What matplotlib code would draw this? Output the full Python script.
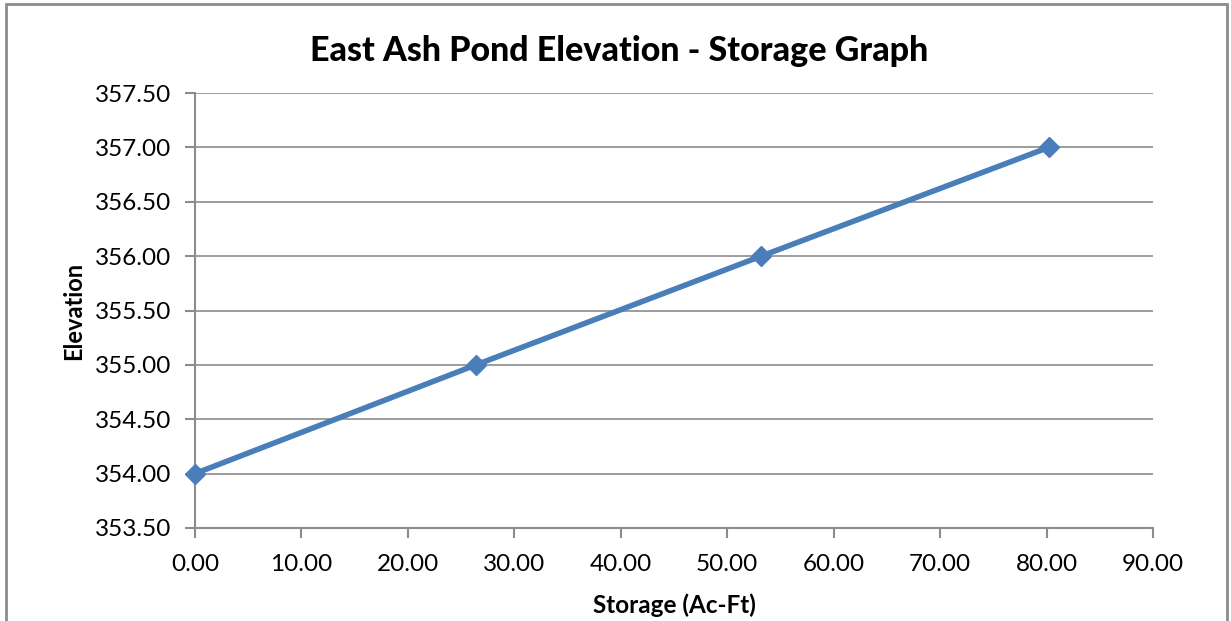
import matplotlib
matplotlib.use("Agg")
import matplotlib.pyplot as plt
from matplotlib.patches import Rectangle
from matplotlib.ticker import FormatStrFormatter

# Elevation - storage data
storage = [0.0, 26.4, 53.2, 80.2]
elevation = [354.0, 355.0, 356.0, 357.0]

plt.rcParams['font.family'] = ['Lato', 'DejaVu Sans']

fig = plt.figure(figsize=(12.31, 6.21), dpi=100)
ax = fig.add_axes([0.1584, 0.1498, 0.7782, 0.7004])

# outer chart border (Excel style)
fig.patches.append(Rectangle((6 / 1231, -0.05), (1227 - 6) / 1231, 1.05 - 4 / 621,
                             transform=fig.transFigure, fill=False,
                             edgecolor='#8c8c8c', linewidth=2))

ax.plot(storage, elevation, color='#4a7ebb', linewidth=4, marker='D',
        markersize=10, zorder=3, clip_on=False)

ax.set_xlim(0, 90)
ax.set_ylim(353.5, 357.5)
ax.set_xticks([i * 10 for i in range(10)])
ax.set_yticks([353.5 + 0.5 * i for i in range(9)])
ax.xaxis.set_major_formatter(FormatStrFormatter('%.2f'))
ax.yaxis.set_major_formatter(FormatStrFormatter('%.2f'))

ax.grid(axis='y', color='#8c8c8c', linewidth=1.2)
ax.set_axisbelow(True)
for side in ['top', 'right']:
    ax.spines[side].set_visible(False)
for side in ['left', 'bottom']:
    ax.spines[side].set_color('#8c8c8c')
    ax.spines[side].set_linewidth(1.5)
ax.tick_params(axis='both', colors='#8c8c8c', labelcolor='black',
               labelsize=17.5, length=7, width=1.5, direction='out')
ax.tick_params(axis='y', pad=10)
ax.tick_params(axis='x', pad=12)

# title is centred on the whole chart, not on the plot area
fig.text(0.503, 0.918, 'East Ash Pond Elevation - Storage Graph', fontsize=24.5,
         fontweight='black', ha='center', va='center')
ax.set_xlabel('Storage (Ac-Ft)', fontsize=17.5, fontweight='bold', labelpad=13)
ax.set_ylabel('Elevation', fontsize=17, fontweight='bold', labelpad=7)

fig.savefig('out.png', dpi=100)
